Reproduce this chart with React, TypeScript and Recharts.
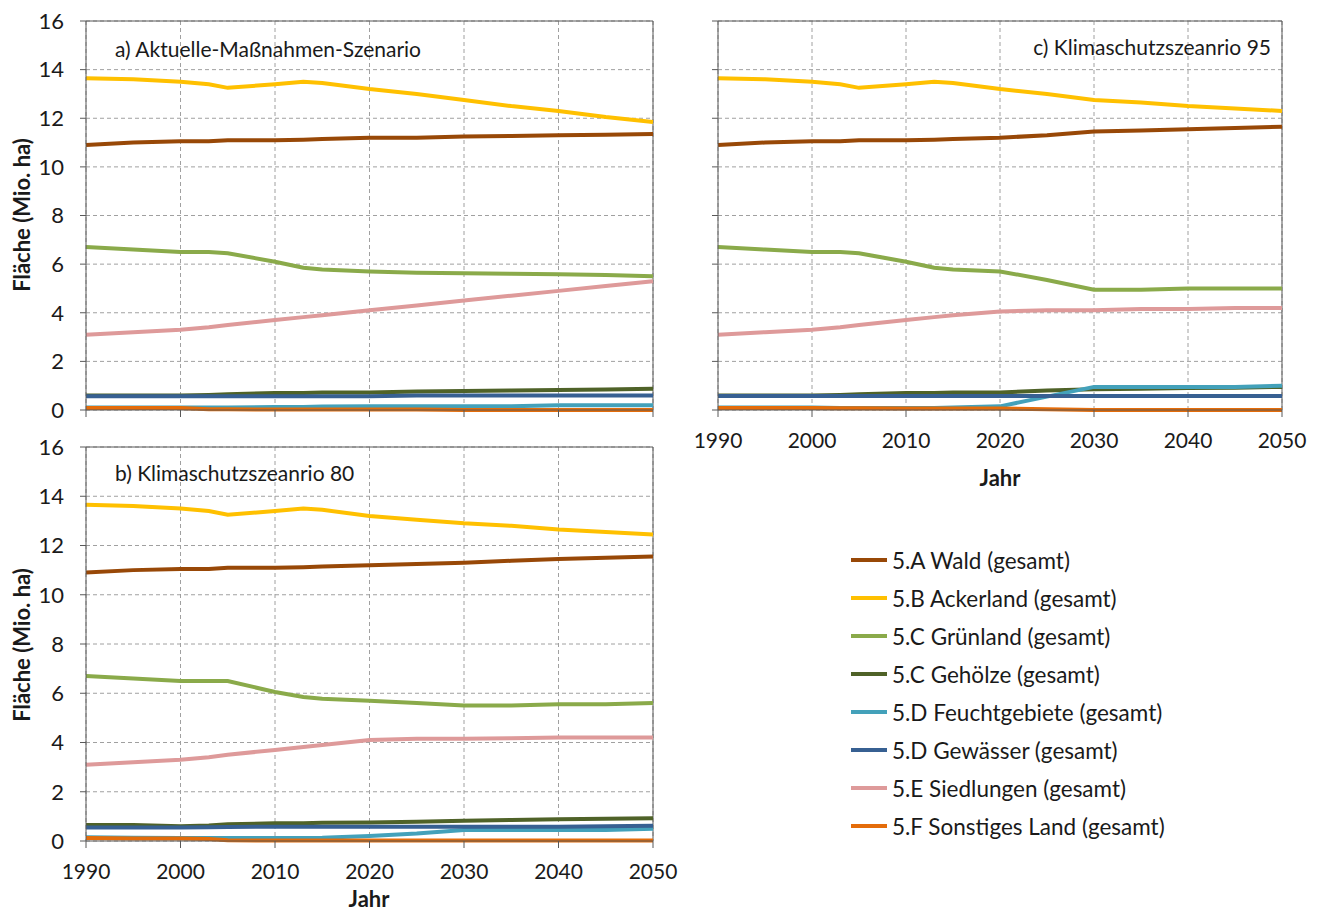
import React from "react"
import { LineChart, Line, XAxis, YAxis, CartesianGrid, ReferenceLine } from "recharts"

// Stützjahre der Zeitreihen
const years = [1990, 1995, 2000, 2003, 2005, 2010, 2013, 2015, 2020, 2025, 2030, 2035, 2040, 2045, 2050]
const xTicks = [1990, 2000, 2010, 2020, 2030, 2040, 2050]
const yTicks = [0, 2, 4, 6, 8, 10, 12, 14, 16]

// a) Aktuelle-Maßnahmen-Szenario
const waldA = [10.9, 11.0, 11.05, 11.05, 11.1, 11.1, 11.12, 11.15, 11.2, 11.2, 11.25, 11.27, 11.3, 11.32, 11.35]
const ackerA = [13.65, 13.6, 13.5, 13.4, 13.25, 13.4, 13.5, 13.45, 13.2, 13.0, 12.75, 12.5, 12.3, 12.05, 11.85]
const gruenA = [6.7, 6.6, 6.5, 6.5, 6.45, 6.1, 5.85, 5.78, 5.7, 5.65, 5.62, 5.6, 5.58, 5.55, 5.5]
const gehoelzA = [0.6, 0.6, 0.6, 0.62, 0.65, 0.7, 0.7, 0.72, 0.72, 0.76, 0.78, 0.8, 0.82, 0.84, 0.87]
const feuchtA = [0.1, 0.1, 0.1, 0.1, 0.1, 0.12, 0.12, 0.14, 0.15, 0.15, 0.15, 0.15, 0.2, 0.2, 0.2]
const gewaesserA = [0.57, 0.57, 0.57, 0.57, 0.57, 0.57, 0.57, 0.57, 0.57, 0.6, 0.6, 0.6, 0.6, 0.6, 0.6]
const siedlungA = [3.1, 3.2, 3.3, 3.4, 3.5, 3.7, 3.82, 3.9, 4.1, 4.3, 4.5, 4.7, 4.9, 5.1, 5.3]
const sonstA = [0.08, 0.08, 0.08, 0.03, 0.03, 0.02, 0.02, 0.02, 0.02, 0.02, 0.0, 0.0, 0.0, 0.0, 0.0]

// b) Klimaschutzszenario 80
const waldB = [10.9, 11.0, 11.05, 11.05, 11.1, 11.1, 11.12, 11.15, 11.2, 11.25, 11.3, 11.38, 11.45, 11.5, 11.55]
const ackerB = [13.65, 13.6, 13.5, 13.4, 13.25, 13.4, 13.5, 13.45, 13.2, 13.05, 12.9, 12.8, 12.65, 12.55, 12.45]
const gruenB = [6.7, 6.6, 6.5, 6.5, 6.5, 6.05, 5.85, 5.78, 5.7, 5.6, 5.5, 5.5, 5.55, 5.55, 5.6]
const gehoelzB = [0.65, 0.65, 0.6, 0.63, 0.68, 0.72, 0.72, 0.74, 0.75, 0.78, 0.82, 0.85, 0.88, 0.9, 0.92]
const feuchtB = [0.15, 0.13, 0.12, 0.12, 0.12, 0.12, 0.12, 0.13, 0.2, 0.3, 0.45, 0.45, 0.45, 0.45, 0.5]
const gewaesserB = [0.55, 0.55, 0.55, 0.56, 0.57, 0.58, 0.58, 0.58, 0.58, 0.58, 0.58, 0.58, 0.58, 0.6, 0.62]
const siedlungB = [3.1, 3.2, 3.3, 3.4, 3.5, 3.7, 3.82, 3.9, 4.1, 4.15, 4.15, 4.17, 4.2, 4.2, 4.2]
const sonstB = [0.12, 0.1, 0.1, 0.08, 0.03, 0.02, 0.02, 0.02, 0.02, 0.02, 0.02, 0.02, 0.02, 0.02, 0.02]

// c) Klimaschutzszenario 95
const waldC = [10.9, 11.0, 11.05, 11.05, 11.1, 11.1, 11.12, 11.15, 11.2, 11.3, 11.45, 11.5, 11.55, 11.6, 11.65]
const ackerC = [13.65, 13.6, 13.5, 13.4, 13.25, 13.4, 13.5, 13.45, 13.2, 13.0, 12.75, 12.65, 12.5, 12.4, 12.3]
const gruenC = [6.7, 6.6, 6.5, 6.5, 6.45, 6.1, 5.85, 5.78, 5.7, 5.35, 4.95, 4.95, 5.0, 5.0, 5.0]
const gehoelzC = [0.6, 0.6, 0.6, 0.62, 0.65, 0.7, 0.7, 0.72, 0.72, 0.8, 0.85, 0.87, 0.9, 0.92, 0.95]
const feuchtC = [0.1, 0.1, 0.1, 0.08, 0.08, 0.08, 0.08, 0.1, 0.15, 0.55, 0.95, 0.95, 0.95, 0.95, 1.0]
const gewaesserC = [0.58, 0.58, 0.58, 0.58, 0.58, 0.58, 0.58, 0.58, 0.58, 0.58, 0.58, 0.58, 0.58, 0.58, 0.58]
const siedlungC = [3.1, 3.2, 3.3, 3.4, 3.5, 3.7, 3.82, 3.9, 4.05, 4.1, 4.1, 4.15, 4.15, 4.2, 4.2]
const sonstC = [0.08, 0.08, 0.08, 0.07, 0.07, 0.06, 0.06, 0.06, 0.06, 0.03, 0.0, 0.0, 0.0, 0.0, 0.0]

const series = [
  { key: "wald", name: "5.A Wald (gesamt)", color: "#984807" },
  { key: "acker", name: "5.B Ackerland (gesamt)", color: "#FFC000" },
  { key: "gruen", name: "5.C Grünland (gesamt)", color: "#8AAA4A" },
  { key: "gehoelz", name: "5.C Gehölze (gesamt)", color: "#4F6228" },
  { key: "feucht", name: "5.D Feuchtgebiete (gesamt)", color: "#43A1BA" },
  { key: "gewaesser", name: "5.D Gewässer (gesamt)", color: "#376092" },
  { key: "siedlung", name: "5.E Siedlungen (gesamt)", color: "#DE9A9A" },
  { key: "sonst", name: "5.F Sonstiges Land (gesamt)", color: "#E46C0A" },
]

function buildRows(cols: Record<string, number[]>) {
  return years.map((year, i) => {
    const row: any = { year }
    Object.keys(cols).forEach((k) => (row[k] = cols[k][i]))
    return row
  })
}

const dataA = buildRows({ wald: waldA, acker: ackerA, gruen: gruenA, gehoelz: gehoelzA, feucht: feuchtA, gewaesser: gewaesserA, siedlung: siedlungA, sonst: sonstA })
const dataB = buildRows({ wald: waldB, acker: ackerB, gruen: gruenB, gehoelz: gehoelzB, feucht: feuchtB, gewaesser: gewaesserB, siedlung: siedlungB, sonst: sonstB })
const dataC = buildRows({ wald: waldC, acker: ackerC, gruen: gruenC, gehoelz: gehoelzC, feucht: feuchtC, gewaesser: gewaesserC, siedlung: siedlungC, sonst: sonstC })

const FONT = "Lato, 'Open Sans', sans-serif"
const axisColor = "#595959"

interface PanelProps {
  data: any[]
  width: number
  height: number
  margin: { top: number; right: number; left: number; bottom: number }
  xAxisHeight: number
  showXLabels: boolean
  showYLabels: boolean
}

function Panel({ data, width, height, margin, xAxisHeight, showXLabels, showYLabels }: PanelProps) {
  return (
    <LineChart width={width} height={height} data={data} margin={margin}>
      <CartesianGrid stroke="#a0a0a0" strokeDasharray="4 3" verticalValues={xTicks} horizontalValues={yTicks} />
      <XAxis
        dataKey="year"
        type="number"
        domain={[1990, 2050]}
        ticks={xTicks}
        height={xAxisHeight}
        stroke={axisColor}
        tickSize={7}
        tickMargin={16}
        tick={{ fill: "#1a1a1a", fontSize: 21, fontFamily: FONT }}
        tickFormatter={(v) => (showXLabels ? `${v}` : "")}
      />
      <YAxis
        type="number"
        domain={[0, 16]}
        ticks={yTicks}
        width={86}
        stroke={axisColor}
        tickSize={6}
        tickMargin={16}
        tick={{ fill: "#1a1a1a", fontSize: 22, fontFamily: FONT }}
        tickFormatter={(v) => (showYLabels ? `${v}` : "")}
      />
      <ReferenceLine y={16} stroke={axisColor} strokeWidth={1} />
      <ReferenceLine x={2050} stroke={axisColor} strokeWidth={1} />
      {series.map((s) => (
        <Line
          key={s.key}
          type="linear"
          dataKey={s.key}
          name={s.name}
          stroke={s.color}
          strokeWidth={4}
          dot={false}
          activeDot={false}
          isAnimationActive={false}
        />
      ))}
    </LineChart>
  )
}

const titleStyle: React.CSSProperties = {
  position: "absolute",
  fontFamily: FONT,
  fontSize: 21,
  lineHeight: "24px",
  color: "#1a1a1a",
  whiteSpace: "nowrap",
}

const axisTitleStyle: React.CSSProperties = {
  position: "absolute",
  fontFamily: FONT,
  fontSize: 22,
  fontWeight: 700,
  lineHeight: "24px",
  color: "#1a1a1a",
  whiteSpace: "nowrap",
  transform: "translate(-50%, -50%)",
}

export default function App() {
  return (
    <div style={{ position: "absolute", left: 0, top: 0, width: 1322, height: 914, background: "#fff", overflow: "hidden" }}>
      <div style={{ position: "absolute", left: 0, top: 0 }}>
        <Panel data={dataA} width={680} height={440} margin={{ top: 21, right: 27, left: 0, bottom: 0 }} xAxisHeight={30} showXLabels={false} showYLabels />
      </div>
      <div style={{ position: "absolute", left: 632, top: 0 }}>
        <Panel data={dataC} width={690} height={500} margin={{ top: 21, right: 40, left: 0, bottom: 0 }} xAxisHeight={90} showXLabels showYLabels={false} />
      </div>
      <div style={{ position: "absolute", left: 0, top: 430 }}>
        <Panel data={dataB} width={680} height={484} margin={{ top: 17, right: 27, left: 0, bottom: 0 }} xAxisHeight={73} showXLabels showYLabels />
      </div>

      <div style={{ ...titleStyle, left: 115, top: 37 }}>a) Aktuelle-Maßnahmen-Szenario</div>
      <div style={{ ...titleStyle, right: 51, top: 35, textAlign: "right" }}>c) Klimaschutzszeanrio 95</div>
      <div style={{ ...titleStyle, left: 115, top: 461 }}>b) Klimaschutzszeanrio 80</div>

      <div style={{ ...axisTitleStyle, left: 22, top: 215, transform: "translate(-50%, -50%) rotate(-90deg)" }}>Fläche (Mio. ha)</div>
      <div style={{ ...axisTitleStyle, left: 22, top: 645, transform: "translate(-50%, -50%) rotate(-90deg)" }}>Fläche (Mio. ha)</div>
      <div style={{ ...axisTitleStyle, left: 1000, top: 478 }}>Jahr</div>
      <div style={{ ...axisTitleStyle, left: 369, top: 899, lineHeight: "20px" }}>Jahr</div>

      {series.map((s, i) => (
        <div key={s.key} style={{ position: "absolute", left: 851, top: 560 + i * 38 - 13, height: 26, display: "flex", alignItems: "center" }}>
          <div style={{ width: 36, height: 3.5, background: s.color, marginRight: 5 }} />
          <span style={{ fontFamily: FONT, fontSize: 22.5, color: "#1a1a1a", whiteSpace: "nowrap" }}>{s.name}</span>
        </div>
      ))}
    </div>
  )
}
